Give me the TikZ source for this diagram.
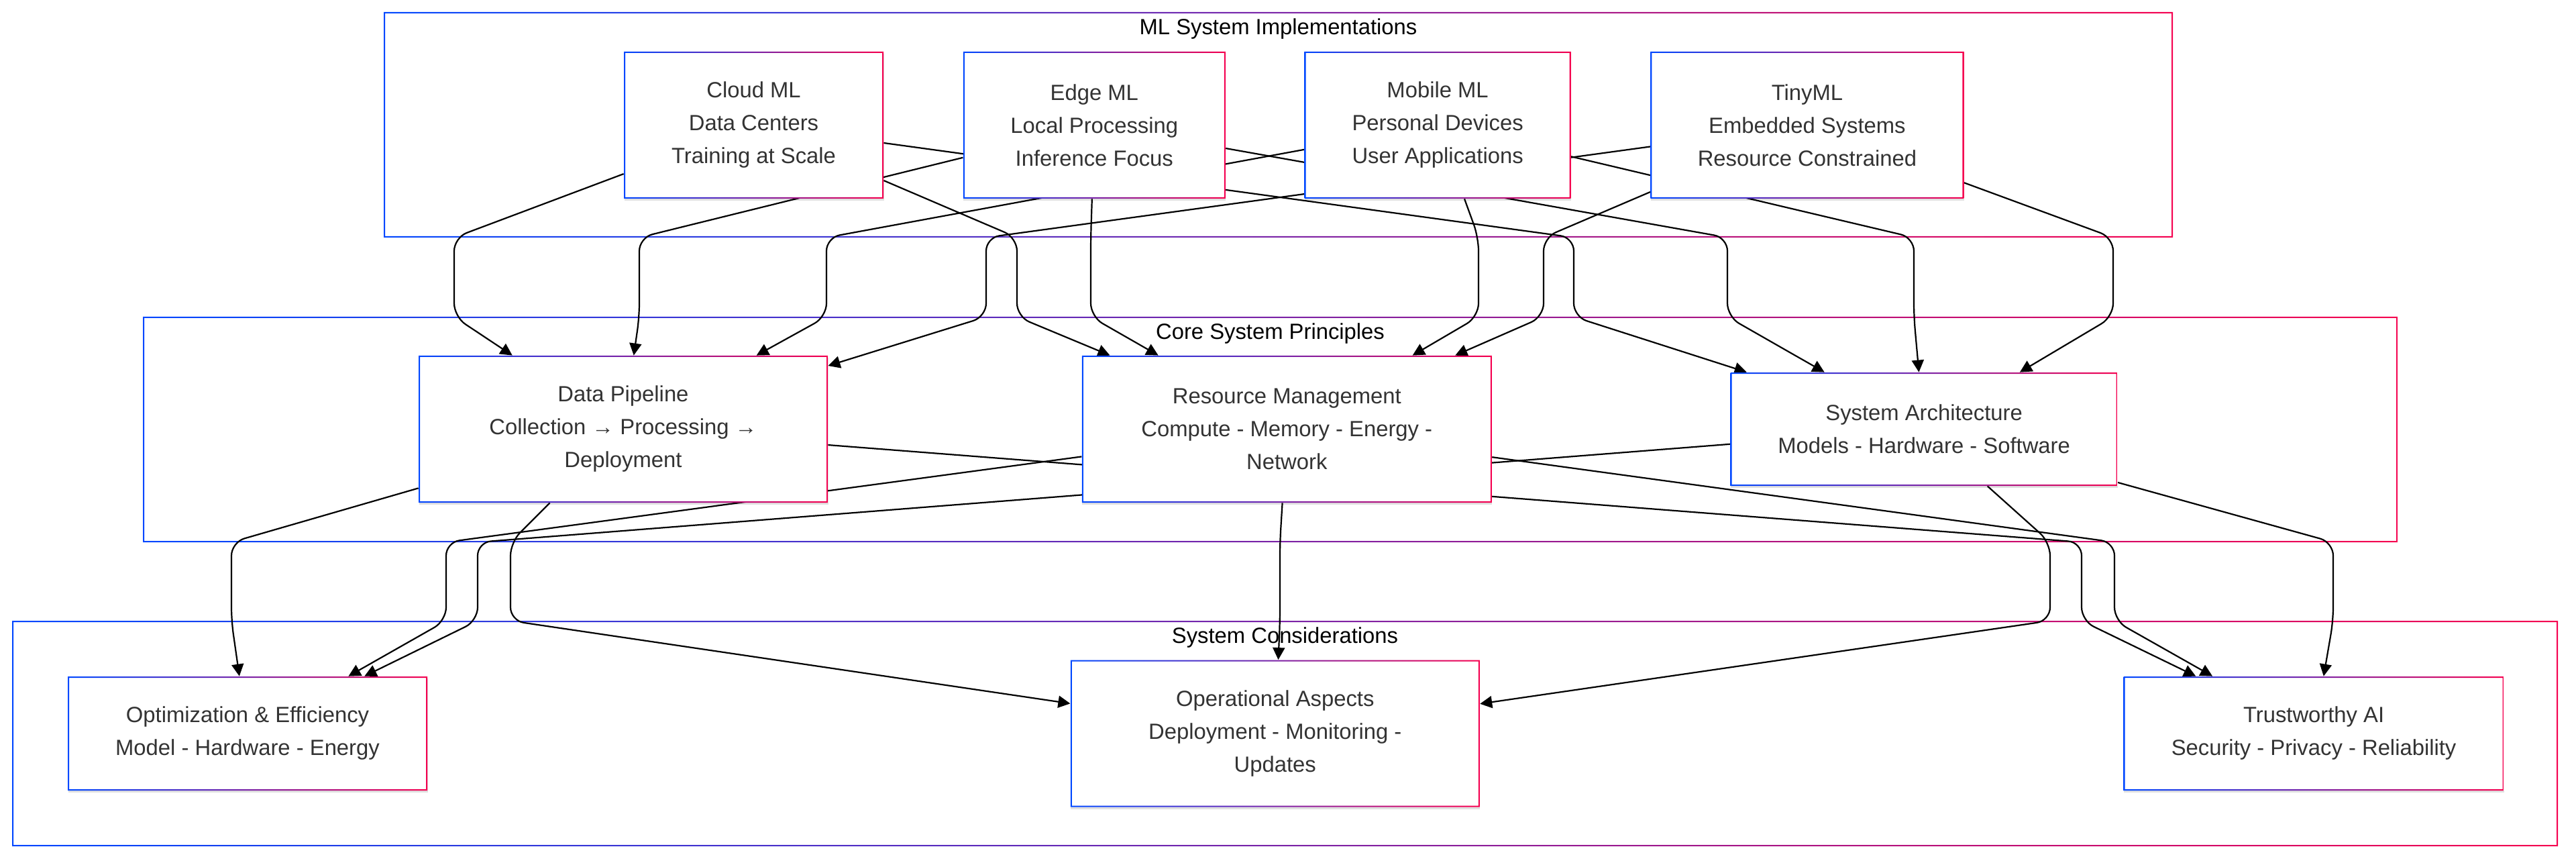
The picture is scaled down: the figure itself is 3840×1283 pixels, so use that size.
\documentclass[tikz,border=0pt]{standalone}
\usepackage{fontspec}
\setmainfont{Liberation Sans}
\usetikzlibrary{positioning,arrows.meta,shadows}
\definecolor{mlblue}{HTML}{0047FF}
\definecolor{mlred}{HTML}{F5004F}
\definecolor{txtgray}{HTML}{333333}
\pgfdeclarelayer{back}
\pgfsetlayers{back,main}

\begin{document}
\begin{tikzpicture}[x=0.5pt, y=-0.5pt, node distance=59pt, >={Triangle[length=9pt,width=9pt]}]
			\tikzstyle{gframe}=[path picture={\shade[left color=mlblue, right color=mlred, even odd rule]
				(path picture bounding box.south west) rectangle (path picture bounding box.north east)
				([shift={(1pt,1pt)}]path picture bounding box.south west) rectangle ([shift={(-1pt,-1pt)}]path picture bounding box.north east);}]
			\tikzstyle{cluster}=[gframe, fill=white, inner sep=0pt, minimum height=168pt]
			\tikzstyle{ctitle}=[font=\fontsize{16.4}{24.5}\selectfont, text=black, inner sep=0pt]
			\tikzstyle{mlbox}=[gframe, fill=white, inner sep=0pt, minimum height=109.5pt, align=center, text=txtgray,
				font=\fontsize{16.4}{24.5}\selectfont, drop shadow={shadow xshift=0.3pt, shadow yshift=-1.5pt, opacity=0.12, fill=black}]
			\tikzstyle{flow}=[line width=1.1pt, ->, rounded corners=10pt]
			\useasboundingbox (0,0) rectangle (3840,1283);
			%Clusters
			\begin{pgfonlayer}{back}
			\node[cluster, minimum width=1333.5pt](impl) at (1905.5,186){};
			\node[cluster, minimum width=1680.5pt](core) at (1893.5,640){};
			\node[cluster, minimum width=1897.5pt](consid) at (1915.5,1093){};
			\end{pgfonlayer}
			\node[ctitle](implT) at ([yshift=-12.5pt]impl.north){ML System Implementations};
			\node[ctitle](coreT) at ([yshift=-12.5pt]core.north){Core System Principles};
			\node[ctitle](considT) at ([yshift=-12.5pt]consid.north){System Considerations};
			%First Row
			\node[mlbox, minimum width=193.5pt](cloud) at (1123.5,186.5){Cloud ML\\Data Centers\\Training at Scale};
			\node[mlbox, minimum width=195.5pt](edge)[right=59pt of cloud]{Edge ML\\Local Processing\\Inference Focus};
			\node[mlbox, minimum width=198.5pt](mobile)[right=58.5pt of edge]{Mobile ML\\Personal Devices\\User Applications};
			\node[mlbox, minimum width=233.5pt](tiny)[right=59pt of mobile]{TinyML\\Embedded Systems\\Resource Constrained};
			%Second Row
			\node[mlbox, minimum width=305pt](pipeline) at (929,639.5){Data Pipeline\\Collection → Processing →\\Deployment};
			\node[mlbox, minimum width=305.5pt](resource)[right=189pt of pipeline]{Resource Management\\Compute - Memory - Energy -\\Network};
			\node[mlbox, minimum width=288.5pt, minimum height=84.5pt](arch)[right=177.5pt of resource]{System Architecture\\Models - Hardware - Software};
			%Third Row
			\node[mlbox, minimum width=268pt, minimum height=85pt](optim) at (369,1093){Optimization \& Efficiency\\Model - Hardware - Energy};
			\node[mlbox, minimum width=305pt](ops)[right=479pt of optim]{Operational Aspects\\Deployment - Monitoring -\\Updates};
			\node[mlbox, minimum width=283.5pt, minimum height=85pt](trust)[right=479.5pt of ops]{Trustworthy AI\\Security - Privacy - Reliability};
			\begin{pgfonlayer}{back}
			%Arrows Implementations to Principles
			\draw[flow](cloud) -- (677,354) -- (677,472) -- (pipeline);
			\draw[flow](edge) -- (953,354) -- (953,472) -- (pipeline);
			\draw[flow](mobile) -- (1232,354) -- (1232,472) -- (pipeline);
			\draw[flow](tiny) -- (1470,354) -- (1470,472) -- (pipeline);
			\draw[flow](cloud) -- (1516,354) -- (1516,472) -- (resource);
			\draw[flow](edge) -- (1626,354) -- (1626,472) -- (resource);
			\draw[flow](mobile) -- (2204,354) -- (2204,472) -- (resource);
			\draw[flow](tiny) -- (2301,354) -- (2301,472) -- (resource);
			\draw[flow](cloud) -- (2346,354) -- (2346,472) -- (arch);
			\draw[flow](edge) -- (2575,354) -- (2575,472) -- (arch);
			\draw[flow](mobile) -- (2853,354) -- (2853,472) -- (arch);
			\draw[flow](tiny) -- (3150,354) -- (3150,472) -- (arch);
			%Arrows Principles to Considerations
			\draw[flow](pipeline) -- (345,808) -- (345,925) -- (optim);
			\draw[flow](resource) -- (665,808) -- (665,925) -- (optim);
			\draw[flow](arch) -- (712,808) -- (712,925) -- (optim);
			\draw[flow](pipeline) -- (761,808) -- (761,925) -- (ops);
			\draw[flow](resource) -- (1908,808) -- (1908,925) -- (ops);
			\draw[flow](arch) -- (3056,808) -- (3056,925) -- (ops);
			\draw[flow](pipeline) -- (3103,808) -- (3103,925) -- (trust);
			\draw[flow](resource) -- (3152,808) -- (3152,925) -- (trust);
			\draw[flow](arch) -- (3478,808) -- (3478,925) -- (trust);
			\end{pgfonlayer}
\end{tikzpicture}
\end{document}
